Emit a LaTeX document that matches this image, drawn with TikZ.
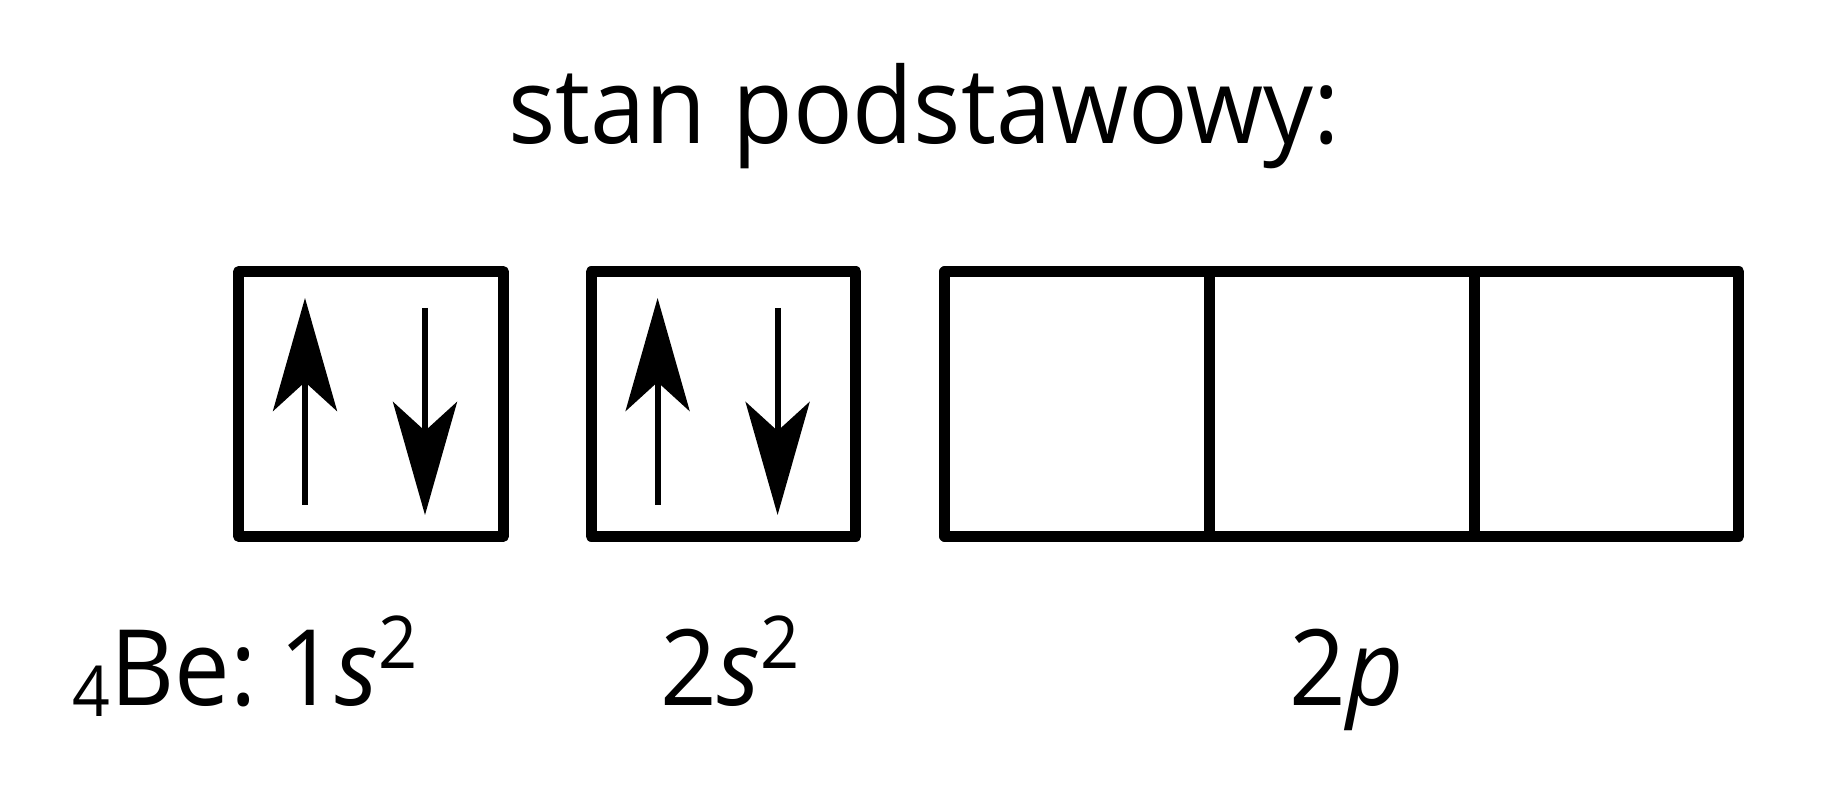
\documentclass[tikz,border=0pt]{standalone}
\usepackage{fontspec}
\setmainfont{Open Sans}
\usetikzlibrary{arrows.meta, positioning}

\newcommand{\supii}{\raisebox{0.36em}{\fontsize{20.7}{20.7}\selectfont 2}}
\newcommand{\subiv}{\raisebox{-0.1em}{\fontsize{20}{20}\selectfont 4}}
\newcommand{\narrowtext}[1]{\scalebox{0.94}[1]{#1}}

\begin{document}
\begin{tikzpicture}[x=0.01cm, y=-0.01cm,
    >={Stealth[length=1.13cm, width=0.64cm, inset=0.29cm]},
    orbital/.style={draw, line width=3.1pt, line join=round, minimum size=2.645cm, inner sep=0pt},
    term/.style={font=\fontsize{30}{36}\selectfont, inner sep=0pt},
    spinarrow/.style={->, line width=1.7pt}]

    \useasboundingbox (0,0) rectangle (1843,801);

    % -------------------------------------------------------
    % 1. Title
    % -------------------------------------------------------
    \node[term, anchor=base] (title) at (924,144) {\narrowtext{stan podstawowy:}};

    % -------------------------------------------------------
    % 2. Orbital boxes (1s, 2s, three 2p)
    % -------------------------------------------------------
    \node[orbital] (s1) at (371,404) {};
    \node[orbital, right=0.77cm of s1] (s2) {};
    \node[orbital, right=0.78cm of s2] (p1) {};
    \node[orbital, right=-3.1pt of p1] (p2) {};
    \node[orbital, right=-3.1pt of p2] (p3) {};

    % -------------------------------------------------------
    % 3. Paired spins in the s orbitals
    % -------------------------------------------------------
    \foreach \b in {s1, s2} {
      \coordinate (\b-ut) at ([shift={(-66,101)}]\b.center);
      \coordinate (\b-uh) at ([shift={(-66,-106)}]\b.center);
      \coordinate (\b-dt) at ([shift={(54,-96)}]\b.center);
      \coordinate (\b-dh) at ([shift={(54,111)}]\b.center);
      \draw[spinarrow] (\b-ut) -- (\b-uh);
      \draw[spinarrow] (\b-dt) -- (\b-dh);
    }

    % -------------------------------------------------------
    % 4. Configuration labels
    % -------------------------------------------------------
    \node[term, anchor=base west] (cfg) at (72,706) {\narrowtext{\subiv Be:\hspace{6.8pt}1\textit{s}\supii}};
    \node[term, anchor=base west] (lab2s) at (660,706) {\narrowtext{2\textit{s}\supii}};
    \node[term, anchor=base west] (lab2p) at (1289,706) {\narrowtext{2\textit{p}}};
\end{tikzpicture}
\end{document}
